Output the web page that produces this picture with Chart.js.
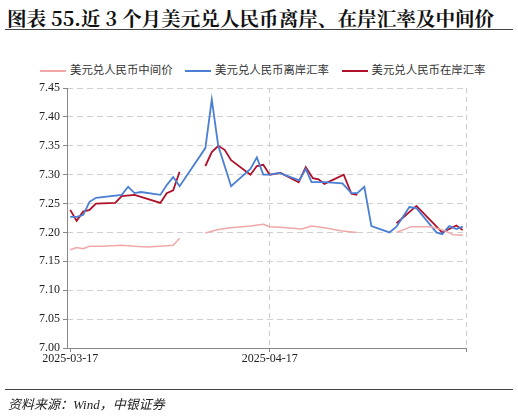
<!DOCTYPE html>
<html>
<head>
<meta charset="utf-8">
<script src="https://cdn.jsdelivr.net/npm/chart.js@4/dist/chart.umd.min.js"></script>
<style>
	body { margin: 0; width: 518px; height: 416px; position: relative; background: #fff; overflow: hidden; }
	#title { position: absolute; left: 7px; top: 3px; font: bold 19.6px "Noto Serif CJK SC", "Noto Sans CJK SC", serif; color: #111; white-space: nowrap; }
	#rule1 { position: absolute; left: 5px; top: 29px; width: 508px; height: 1px; background: #444; }
	#rule2 { position: absolute; left: 5px; top: 389px; width: 508px; height: 1px; background: #444; }
	#source { position: absolute; left: 8px; top: 394px; font: italic 13px "Liberation Serif", "Noto Sans CJK SC", serif; color: #222; }
	#legend { position: absolute; top: 61px; left: 40px; font: 11.4px "Noto Sans CJK SC", sans-serif; color: #333; white-space: nowrap; }
	#legend span.item { margin-right: 10px; }
	#legend i { display: inline-block; width: 26px; height: 2px; vertical-align: middle; margin-right: 4px; }
	canvas { position: absolute; left: 0; top: 0; }
</style>
</head>
<body>
<div id="title">图表 55.近 3 个月美元兑人民币离岸、在岸汇率及中间价</div>
<div id="rule1"></div>
<div id="legend">
	<span class="item"><i style="background:#f0a8a8"></i>美元兑人民币中间价</span>
	<span class="item"><i style="background:#4a7fd4"></i>美元兑人民币离岸汇率</span>
	<span class="item"><i style="background:#b0102a"></i>美元兑人民币在岸汇率</span>
</div>
<canvas id="chart" width="518" height="416"></canvas>
<div id="rule2"></div>
<div id="source">资料来源：Wind，中银证券</div>
<script>
// day index: 0 = 2025-03-17
const tickDays = [0, 31];
const tickLabels = ['2025-03-17', '2025-04-17'];

const offshoreDays = [0, 1, 2, 3, 4, 8, 9, 10, 11, 14, 15, 16, 17, 21, 22, 23, 25, 28, 29, 30, 31, 32.5, 35.6, 36.6, 37.5, 39.5, 42.3, 43.7, 44.6, 45.7, 46.8, 49.6, 50.7, 52.7, 53.8, 56.9, 57.8, 58.9, 60, 61];
const offshoreVals = [7.227, 7.227, 7.23, 7.253, 7.26, 7.265, 7.279, 7.268, 7.27, 7.265, 7.282, 7.296, 7.28, 7.346, 7.43, 7.35, 7.28, 7.31, 7.33, 7.30, 7.30, 7.303, 7.29, 7.31, 7.287, 7.287, 7.285, 7.268, 7.268, 7.279, 7.211, 7.20, 7.21, 7.244, 7.242, 7.20, 7.197, 7.211, 7.206, 7.21];

const onshoreDays = [0, 1, 2, 3, 4, 7, 8, 10, 14, 15, 16, 17, 19, 21, 22, 23, 24, 25, 28, 29, 30, 31, 32.7, 35.5, 36.6, 37.7, 38.6, 39.5, 42.5, 43.7, 44.6, 47, 50.7, 53.8, 57.8, 60, 61];
const onshoreVals = [7.239, 7.22, 7.236, 7.239, 7.25, 7.251, 7.263, 7.265, 7.251, 7.268, 7.273, 7.305, null, 7.315, 7.339, 7.35, 7.343, 7.325, 7.30, 7.315, 7.317, 7.30, 7.303, 7.287, 7.313, 7.294, 7.292, 7.284, 7.30, 7.267, 7.265, null, 7.216, 7.246, 7.20, 7.212, 7.204];

const centralDays = [0, 1, 2, 3, 5, 8, 10, 12, 15, 16, 17, 19, 21, 23, 25, 28, 30, 31, 32.5, 36, 37.5, 39.5, 42, 44.5, 47, 50.7, 53, 56, 58, 59.5, 61];
const centralVals = [7.170, 7.174, 7.172, 7.176, 7.176, 7.178, 7.176, 7.175, 7.177, 7.178, 7.19, null, 7.199, 7.205, 7.208, 7.211, 7.214, 7.21, 7.209, 7.206, 7.211, 7.208, 7.203, 7.20, null, 7.20, 7.21, 7.21, 7.204, 7.196, 7.195];

const toPoints = (days, vals) => days.map((d, i) => ({ x: d, y: vals[i] }));

const line = (label, color, width, days, vals) => ({
	label: label,
	data: toPoints(days, vals),
	borderColor: color,
	borderWidth: width,
	pointRadius: 0,
	tension: 0,
	spanGaps: false,
});

// solid left axis line over the dashed grid
const solidAxis = {
	id: 'solidAxis',
	afterDraw(chart) {
		const { ctx, chartArea } = chart;
		ctx.save();
		ctx.strokeStyle = '#888';
		ctx.lineWidth = 1;
		ctx.beginPath();
		ctx.moveTo(chartArea.left + 0.5, chartArea.top);
		ctx.lineTo(chartArea.left + 0.5, chartArea.bottom);
		ctx.moveTo(chartArea.left, chartArea.bottom + 0.5);
		ctx.lineTo(chartArea.right, chartArea.bottom + 0.5);
		ctx.stroke();
		ctx.restore();
	}
};

new Chart(document.getElementById('chart'), {
	type: 'line',
	data: {
		datasets: [
			line('美元兑人民币中间价', '#f0a8a8', 1.5, centralDays, centralVals),
			line('美元兑人民币离岸汇率', '#4a7fd4', 1.8, offshoreDays, offshoreVals),
			line('美元兑人民币在岸汇率', '#b0102a', 1.8, onshoreDays, onshoreVals),
		]
	},
	plugins: [solidAxis],
	options: {
		responsive: false,
		animation: false,
		layout: { padding: { top: 88, right: 52, bottom: 48, left: 0 } },
		plugins: { legend: { display: false }, tooltip: { enabled: false } },
		scales: {
			x: {
				type: 'linear',
				min: -0.5,
				max: 61.5,
				afterBuildTicks: (axis) => { axis.ticks = [0, 31, 61.5].map(v => ({ value: v })); },
				afterFit: (axis) => { axis.height = 20; },
				ticks: {
					autoSkip: false,
					maxRotation: 0,
					color: '#222',
					font: { family: 'Liberation Serif', size: 12 },
					padding: 0,
					callback: (v) => { const i = tickDays.indexOf(v); return i >= 0 ? tickLabels[i] : ''; }
				},
				grid: {
					color: (c) => c.tick && c.tick.value === 0 ? 'rgba(0,0,0,0)' : '#cccccc',
					tickColor: '#888',
					tickLength: 4,
				},
				border: { display: false, dash: [5, 4] },
			},
			y: {
				min: 7.0,
				max: 7.45,
				afterFit: (axis) => { axis.width = 67; },
				ticks: {
					stepSize: 0.05,
					color: '#222',
					font: { family: 'Liberation Serif', size: 12 },
					callback: (v) => v.toFixed(2)
				},
				grid: { color: (c) => c.tick && c.tick.value === 7.0 ? 'rgba(0,0,0,0)' : '#d0d0d0', tickColor: '#888', tickLength: 4 },
				border: { display: false, dash: [6, 4] },
			}
		}
	}
});
</script>
</body>
</html>
